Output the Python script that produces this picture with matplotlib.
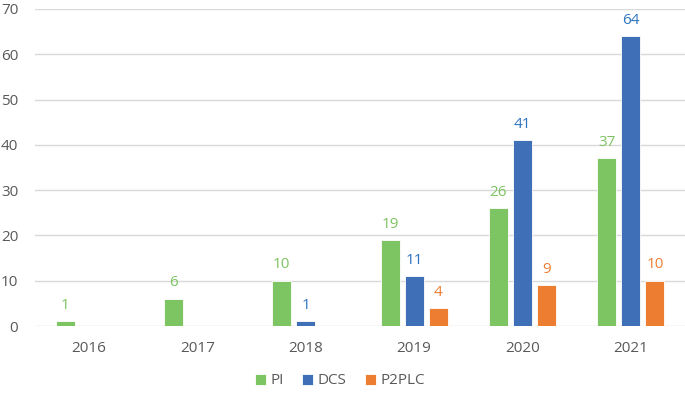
import numpy as np
import matplotlib.pyplot as plt

years = ["2016", "2017", "2018", "2019", "2020", "2021"]
pi = [1, 6, 10, 19, 26, 37]
dcs = [0, 0, 1, 11, 41, 64]
p2plc = [0, 0, 0, 4, 9, 10]

series = [("PI", pi, "#7DC462", "#7DC462"),
          ("DCS", dcs, "#3F6FB6", "#2E75C0"),
          ("P2PLC", p2plc, "#ED7D31", "#ED7D31")]

plt.rcParams['font.family'] = ['Open Sans', 'DejaVu Sans']

fig = plt.figure(figsize=(6.85, 4.01), dpi=100)
ax = fig.add_axes([35 / 685, 1 - 326 / 401, 650 / 685, 317 / 401])

x = np.arange(len(years))
w = 0.175
step = 0.222
for i, (name, vals, col, lcol) in enumerate(series):
    pos = x + (i - 1) * step
    ax.bar(pos, vals, width=w, color=col, edgecolor="white", linewidth=0.6, label=name, zorder=3)
    for p, v in zip(pos, vals):
        if v > 0:
            ax.annotate(str(v), (p, v), xytext=(0, 6), textcoords="offset points",
                        ha="center", va="bottom", color=lcol, fontsize=11)

ax.set_xlim(-0.5, len(years) - 0.5)
ax.set_ylim(0, 70)
ax.set_yticks(range(0, 71, 10))
ax.set_xticks(x)
ax.set_xticklabels(years)
ax.yaxis.grid(True, color="#D9D9D9", linewidth=1, zorder=0)
for s in ax.spines.values():
    s.set_visible(False)
ax.tick_params(length=0, colors="#595959", labelsize=11)
ax.tick_params(axis="x", pad=11)
ax.tick_params(axis="y", pad=12)

fig.legend(loc="center", bbox_to_anchor=(340 / 685, 1 - 381 / 401), ncol=3, frameon=False,
           handlelength=0.7, handleheight=0.7, handletextpad=0.3, columnspacing=1.2,
           fontsize=11, labelcolor="#595959")

fig.savefig("out.png", dpi=100)
